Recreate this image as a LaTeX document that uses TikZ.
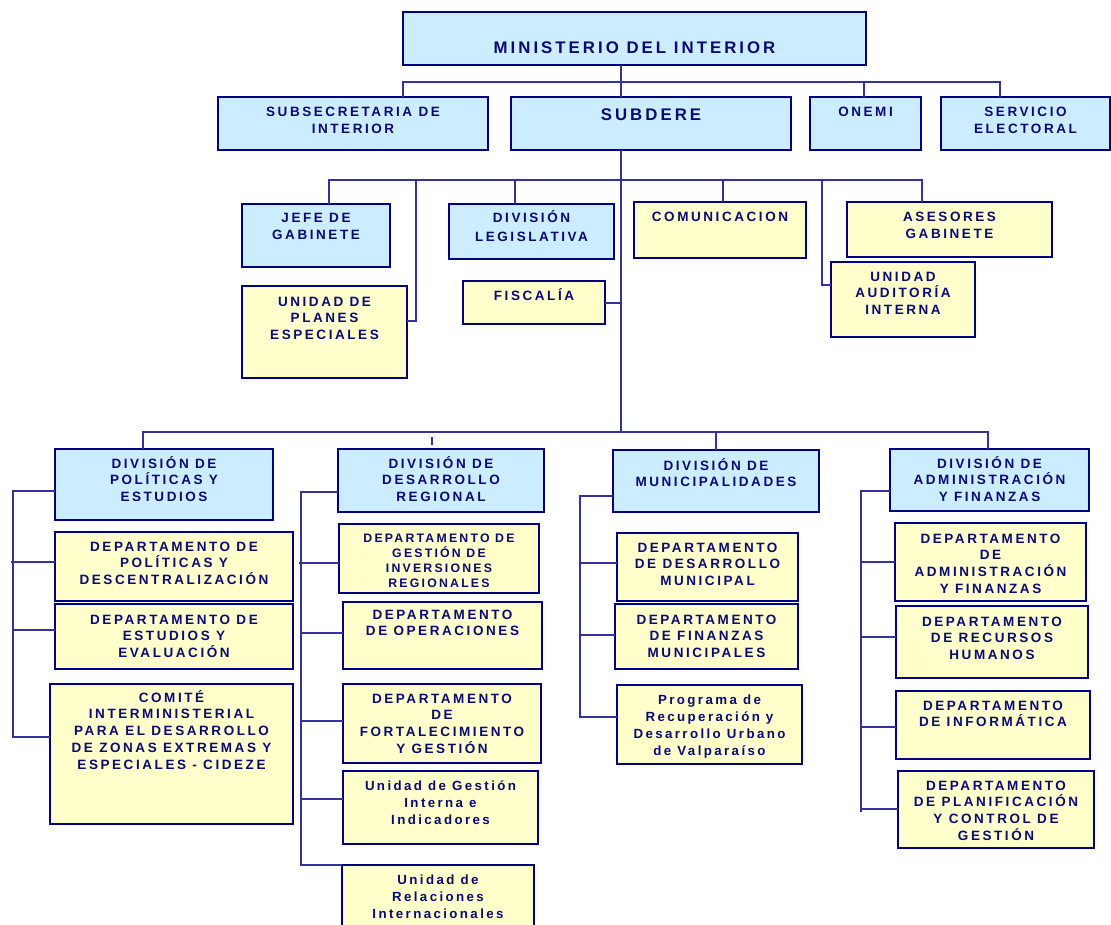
\documentclass[tikz,border=0pt]{standalone}
\usepackage{fontspec}
\newfontfamily\capf[LetterSpace=19]{Liberation Sans}
\newfontfamily\smf[LetterSpace=18]{Liberation Sans}
\newfontfamily\lowf[LetterSpace=18]{Liberation Sans}
\newfontfamily\bigf[LetterSpace=18]{Liberation Sans}
\definecolor{bordc}{RGB}{0,0,128}
\definecolor{txtc}{RGB}{10,10,115}
\definecolor{conc}{RGB}{51,51,153}
\definecolor{bluef}{RGB}{204,236,255}
\definecolor{yelf}{RGB}{255,255,204}
% name, x1, y1, x2, y2, fill style, label style, first line centre y, text
\newcommand\obox[9]{%
  \node[box,#6,minimum width={(#4)-(#2)},minimum height={(#5)-(#3)}] (#1) at ({((#2)+(#4))/2},{((#3)+(#5))/2}) {};
  \node[#7,anchor=north] (#1t) at ({(#2+#4)/2},{(#8)-8.2}) {\rule{0pt}{13pt}#9};
}
\begin{document}
\begin{tikzpicture}[x=1pt,y=-1pt,
  box/.style={draw=bordc,line width=2pt,inner sep=0pt,outer sep=0pt},
  bluebox/.style={fill=bluef},
  yelbox/.style={fill=yelf},
  lbl/.style={text=txtc,inner sep=0pt,align=center,font=\capf\bfseries\fontsize{13.5}{16.8}\selectfont},
  lblbig/.style={lbl,font=\bigf\bfseries\fontsize{16.8}{20}\selectfont},
  lblsm/.style={lbl,font=\smf\bfseries\fontsize{12.3}{15}\selectfont},
  lblwide/.style={lbl,font=\capf\bfseries\fontsize{13.5}{19}\selectfont},
  lbllow/.style={lbl,font=\lowf\bfseries\fontsize{13.3}{17.3}\selectfont},
  con/.style={draw=conc,line width=1.4pt}]
\fill[white] (0,0) rectangle (1111,925);
\useasboundingbox (0,0) rectangle (1111,925);

% ---------- top level ----------
\obox{min}{403}{12}{866}{65}{bluebox}{lblbig}{48.4}{MINISTERIO DEL INTERIOR}
\obox{sub}{218}{97}{488}{150}{bluebox}{lbl}{112}{SUBSECRETARIA DE\\INTERIOR}
\obox{sd}{511}{97}{791}{150}{bluebox}{lblbig}{115.4}{SUBDERE}
\obox{onemi}{810}{97}{921}{150}{bluebox}{lbl}{112}{ONEMI}
\obox{serv}{941}{97}{1110}{150}{bluebox}{lbl}{112}{SERVICIO\\ELECTORAL}

% ---------- SUBDERE staff ----------
\obox{jefe}{242}{204}{390}{267}{bluebox}{lbl}{218}{JEFE DE\\GABINETE}
\obox{planes}{242}{286}{407}{378}{yelbox}{lbl}{301}{UNIDAD DE\\PLANES\\ESPECIALES}
\obox{leg}{449}{204}{614}{259}{bluebox}{lblwide}{218}{DIVISIÓN\\LEGISLATIVA}
\obox{fis}{463}{281}{605}{324}{yelbox}{lbl}{296}{FISCALÍA}
\obox{com}{634}{202}{806}{258}{yelbox}{lbl}{217}{COMUNICACION}
\obox{ases}{847}{202}{1052}{257}{yelbox}{lbl}{217}{ASESORES\\GABINETE}
\obox{aud}{831}{262}{975}{337}{yelbox}{lbl}{276}{UNIDAD\\AUDITORÍA\\INTERNA}

% ---------- column 1 ----------
\obox{pol}{55}{449}{273}{520}{bluebox}{lbl}{463}{DIVISIÓN DE\\POLÍTICAS Y\\ESTUDIOS}
\obox{dpd}{55}{532}{293}{601}{yelbox}{lbl}{546}{DEPARTAMENTO DE\\POLÍTICAS Y\\DESCENTRALIZACIÓN}
\obox{dee}{55}{604}{293}{669}{yelbox}{lbl}{619}{DEPARTAMENTO DE\\ESTUDIOS Y\\EVALUACIÓN}
\obox{cid}{50}{684}{293}{824}{yelbox}{lbl}{697}{COMITÉ\\INTERMINISTERIAL\\PARA EL DESARROLLO\\DE ZONAS EXTREMAS Y\\ESPECIALES - CIDEZE}

% ---------- column 2 ----------
\obox{dr}{338}{449}{544}{512}{bluebox}{lbl}{463}{DIVISIÓN DE\\DESARROLLO\\REGIONAL}
\obox{dgi}{339}{524}{539}{593}{yelbox}{lblsm}{537}{DEPARTAMENTO DE\\GESTIÓN DE\\INVERSIONES\\REGIONALES}
\obox{dop}{343}{602}{542}{669}{yelbox}{lbl}{614}{DEPARTAMENTO\\DE OPERACIONES}
\obox{dfg}{343}{684}{541}{763}{yelbox}{lbl}{698}{DEPARTAMENTO\\DE\\FORTALECIMIENTO\\Y GESTIÓN}
\obox{ugi}{343}{771}{538}{844}{yelbox}{lbllow}{785}{Unidad de Gestión\\Interna e\\Indicadores}
\obox{uri}{342}{865}{534}{935}{yelbox}{lbllow}{879}{Unidad de\\Relaciones\\Internacionales}

% ---------- column 3 ----------
\obox{mun}{613}{450}{819}{512}{bluebox}{lbl}{465}{DIVISIÓN DE\\MUNICIPALIDADES}
\obox{ddm}{617}{533}{798}{601}{yelbox}{lbl}{547}{DEPARTAMENTO\\DE DESARROLLO\\MUNICIPAL}
\obox{dfm}{615}{604}{798}{669}{yelbox}{lbl}{619}{DEPARTAMENTO\\DE FINANZAS\\MUNICIPALES}
\obox{prv}{617}{685}{802}{764}{yelbox}{lbllow}{699}{Programa de\\Recuperación y\\Desarrollo Urbano\\de Valparaíso}

% ---------- column 4 ----------
\obox{adm}{890}{449}{1089}{511}{bluebox}{lbl}{463}{DIVISIÓN DE\\ADMINISTRACIÓN\\Y FINANZAS}
\obox{daf}{895}{523}{1086}{601}{yelbox}{lbl}{538}{DEPARTAMENTO\\DE\\ADMINISTRACIÓN\\Y FINANZAS}
\obox{drh}{896}{606}{1088}{678}{yelbox}{lbl}{621}{DEPARTAMENTO\\DE RECURSOS\\HUMANOS}
\obox{din}{896}{691}{1090}{759}{yelbox}{lbl}{705}{DEPARTAMENTO\\DE INFORMÁTICA}
\obox{dpc}{898}{771}{1094}{848}{yelbox}{lbl}{785}{DEPARTAMENTO\\DE PLANIFICACIÓN\\Y CONTROL DE\\GESTIÓN}

% ---------- connectors: top ----------
\draw[con] (min.south -| 621,0) -- (sd.north -| 621,0);
\draw[con] (sub.north -| 403,0) -- (403,82) -- (1000,82) -- (serv.north -| 1000,0);
\draw[con] (864,82) -- (onemi.north -| 864,0);
\draw[con] (sd.south -| 621,0) -- (621,432);

% ---------- connectors: SUBDERE staff ----------
\draw[con] (jefe.north -| 329,0) -- (329,180) -- (922,180) -- (ases.north -| 922,0);
\draw[con] (416,180) -- (416,321) -- (planes.east |- 0,321);
\draw[con] (515,180) -- (leg.north -| 515,0);
\draw[con] (723,180) -- (com.north -| 723,0);
\draw[con] (822,180) -- (822,285) -- (aud.west |- 0,285);
\draw[con] (fis.east |- 0,303) -- (621,303);

% ---------- connectors: divisions ----------
\draw[con] (pol.north -| 143,0) -- (143,432) -- (988,432) -- (adm.north -| 988,0);
\draw[con] (716,432) -- (mun.north -| 716,0);
\draw[con] (432,437) -- (432,445);

% column 1
\draw[con] (pol.west |- 0,491) -- (13,491) -- (13,737) -- (cid.west |- 0,737);
\draw[con] (11,562) -- (dpd.west |- 0,562);
\draw[con] (13,630) -- (dee.west |- 0,630);
% column 2
\draw[con] (dr.west |- 0,492) -- (301,492) -- (301,865) -- (uri.north west);
\draw[con] (299,563) -- (dgi.west |- 0,563);
\draw[con] (301,633) -- (dop.west |- 0,633);
\draw[con] (301,721) -- (dfg.west |- 0,721);
\draw[con] (301,799) -- (ugi.west |- 0,799);
% column 3
\draw[con] (mun.west |- 0,496) -- (580,496) -- (580,717) -- (prv.west |- 0,717);
\draw[con] (580,563) -- (ddm.west |- 0,563);
\draw[con] (580,635) -- (dfm.west |- 0,635);
% column 4
\draw[con] (adm.west |- 0,491) -- (861,491) -- (861,812);
\draw[con] (861,562) -- (daf.west |- 0,562);
\draw[con] (861,637) -- (drh.west |- 0,637);
\draw[con] (861,727) -- (din.west |- 0,727);
\draw[con] (861,809) -- (dpc.west |- 0,809);
\end{tikzpicture}
\end{document}
